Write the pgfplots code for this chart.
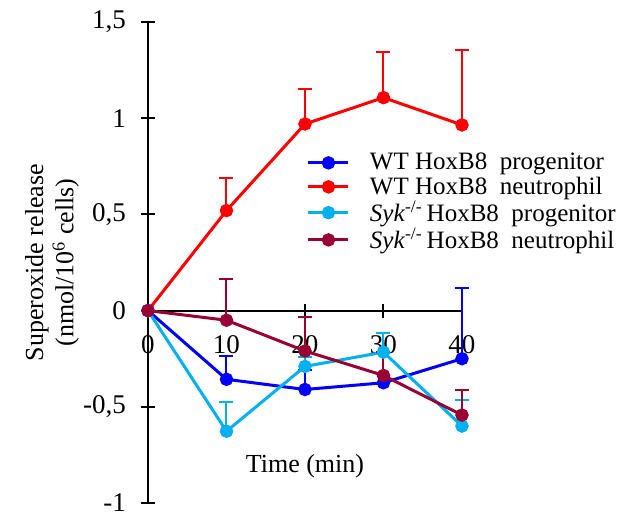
\documentclass[border=0pt]{standalone}
\usepackage{pgfplots}
\pgfplotsset{compat=1.18}
\usepackage{fontspec}
\setmainfont{Liberation Serif}
\usetikzlibrary{calc}
\definecolor{wtprog}{HTML}{0000FF}
\definecolor{wtneut}{HTML}{FF0000}
\definecolor{sykprog}{HTML}{00B0F0}
\definecolor{sykneut}{HTML}{990033}
\pgfplotsset{
    series/.style={
        color=#1, line width=1.5pt, mark=*, mark size=2.6pt,
        mark options={solid, fill=#1, draw=#1},
        error bars/.cd, y dir=plus, y explicit,
        error bar style={line width=1pt, color=#1},
        error mark options={rotate=90, mark size=3.5pt, line width=1pt, color=#1},
    },
}

\begin{document}
\begin{tikzpicture}[font=\rmfamily]
\begin{axis}[
    scale only axis,
    width=157pt, height=240.5pt,
    xmin=0, xmax=40, ymin=-1, ymax=1.5,
    axis x line=bottom,
    axis x line shift=-96.2pt,
    axis y line=left,
    axis line style={-, line width=1pt},
    xtick={0,10,20,30,40},
    ytick={-1,-0.5,0,0.5,1,1.5},
    tick align=center,
    major tick length=7pt,
    tick style={line width=1pt, black},
    clip=false,
    font=\rmfamily\fontsize{13}{15}\selectfont,
    tick label style={font=\rmfamily\fontsize{13.5}{16}\selectfont},
    /pgf/number format/.cd, use comma, assume math mode=true,
    /pgfplots/.cd,
    yticklabel style={xshift=-4pt},
    xticklabel style={yshift=-5.5pt},
    xlabel={Time (min)},
    xlabel style={at={(axis cs:20,-0.81)}, anchor=center},
    ylabel={Superoxide release\\(nmol/10\textsuperscript{6} cells)},
    ylabel style={at={(rel axis cs:0,0.5)}, anchor=center, rotate=0, yshift=48pt, align=center},
    legend style={draw=none, fill=none, at={(rel axis cs:0.486,0.745)}, anchor=north west,
        font=\rmfamily\fontsize{12.5}{15}\selectfont, row sep=-2pt},
    legend cell align=left,
    legend image code/.code={
        \draw[#1, mark repeat=2, mark phase=2] plot coordinates {(0pt,0pt) (10pt,0pt) (20pt,0pt)};
        \path (28pt,0pt);
    },
]
\addplot[series=wtprog] coordinates {
    (0,0) +- (0,0)
    (10,-0.357) +- (0,0.12)
    (20,-0.41) +- (0,0.1)
    (30,-0.375) +- (0,0.26)
    (40,-0.25) +- (0,0.365)
};
\addlegendentry{WT HoxB8\ \ progenitor}
\addplot[series=wtneut] coordinates {
    (0,0) +- (0,0)
    (10,0.52) +- (0,0.17)
    (20,0.97) +- (0,0.18)
    (30,1.107) +- (0,0.236)
    (40,0.965) +- (0,0.39)
};
\addlegendentry{WT HoxB8\ \ neutrophil}
\addplot[series=sykprog] coordinates {
    (0,0) +- (0,0)
    (10,-0.627) +- (0,0.153)
    (20,-0.29) +- (0,0.05)
    (30,-0.216) +- (0,0.1)
    (40,-0.6) +- (0,0.135)
};
\addlegendentry{\textit{Syk}\textsuperscript{-/-}\,HoxB8\ \ progenitor}
\addplot[series=sykneut] coordinates {
    (0,0) +- (0,0)
    (10,-0.05) +- (0,0.216)
    (20,-0.21) +- (0,0.177)
    (30,-0.337) +- (0,0.12)
    (40,-0.543) +- (0,0.128)
};
\addlegendentry{\textit{Syk}\textsuperscript{-/-}\,HoxB8\ \ neutrophil}
\coordinate (sw) at (rel axis cs:0,0);
\coordinate (ne) at (rel axis cs:1,1);
\end{axis}
\pgfresetboundingbox
\path[use as bounding box] ($(sw)+(-74pt,-6pt)$) rectangle ($(ne)+(79pt,11pt)$);
\end{tikzpicture}
\end{document}
